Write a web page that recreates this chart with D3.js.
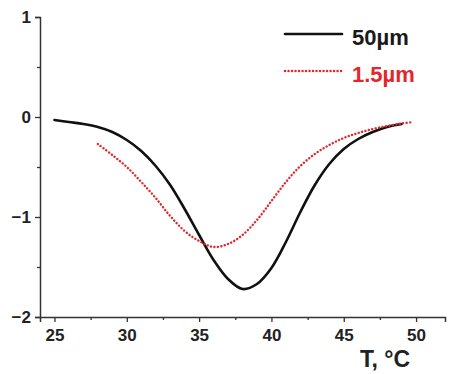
<!DOCTYPE html>
<html>
<head>
<meta charset="utf-8">
<script src="https://cdn.jsdelivr.net/npm/d3@7"></script>
<style>
  body { margin: 0; background: #fff; }
  svg { display: block; font-family: "Liberation Sans", Arial, sans-serif; font-weight: bold; }
</style>
</head>
<body>
<div id="chart"></div>
<script>
// T, °C for the 50 µm sample and its signal
const tempLarge = [25, 26, 27, 28, 29, 30, 31, 32, 33, 34, 35, 36, 37, 38, 39, 40, 41, 42, 43, 44, 45, 46, 47, 48, 49];
const valLarge = [-0.03, -0.05, -0.07, -0.10, -0.15, -0.23, -0.34, -0.49, -0.68, -0.92, -1.18, -1.43, -1.62, -1.72, -1.67, -1.51, -1.25, -0.95, -0.68, -0.47, -0.32, -0.22, -0.15, -0.10, -0.07];

// 1.5 µm sample
const tempSmall = [28, 29, 30, 31, 32, 33, 34, 35, 36, 37, 38, 39, 40, 41, 42, 43, 44, 45, 46, 47, 48, 49, 49.8];
const valSmall = [-0.27, -0.38, -0.50, -0.65, -0.81, -0.99, -1.14, -1.24, -1.30, -1.27, -1.18, -1.03, -0.84, -0.65, -0.49, -0.37, -0.28, -0.21, -0.16, -0.12, -0.09, -0.065, -0.05];

const xTicks = [25, 30, 35, 40, 45, 50];
const xMinor = [27.5, 32.5, 37.5, 42.5, 47.5];
const yTicks = [1, 0, -1, -2];
const yMinor = [0.5, -0.5, -1.5];

const seriesNames = ["50\u00b5m", "1.5\u00b5m"];
const seriesColors = ["#111111", "#e3262b"];

const width = 472, height = 374;
const margin = { left: 40, top: 17, right: 27, bottom: 57 };

const svg = d3.select("#chart").append("svg")
    .attr("width", width)
    .attr("height", height);

const x = d3.scaleLinear().domain([24, 52]).range([margin.left, width - margin.right]);
const y = d3.scaleLinear().domain([-2, 1]).range([height - margin.bottom, margin.top]);

const axisColor = "#333";

// x axis
const gx = svg.append("g")
    .attr("transform", `translate(0,${y(-2)})`)
    .call(d3.axisBottom(x).tickValues(xTicks).tickSize(5).tickPadding(7).tickFormat(d3.format("d")));
gx.append("g")
    .call(d3.axisBottom(x).tickValues(xMinor).tickSize(3).tickFormat(""));
gx.selectAll(".domain").attr("stroke", axisColor).attr("stroke-width", 1.5);
gx.selectAll("line").attr("stroke", axisColor).attr("stroke-width", 1.3);
gx.selectAll("text").attr("font-size", 17).attr("fill", "#222");
gx.selectAll("g g .domain").remove();

// y axis
const gy = svg.append("g")
    .attr("transform", `translate(${x(24)},0)`)
    .call(d3.axisLeft(y).tickValues(yTicks).tickSize(5).tickPadding(4).tickFormat(d3.format("d")));
gy.append("g")
    .call(d3.axisLeft(y).tickValues(yMinor).tickSize(3).tickFormat(""));
gy.selectAll(".domain").attr("stroke", axisColor).attr("stroke-width", 1.5);
gy.selectAll("line").attr("stroke", axisColor).attr("stroke-width", 1.3);
gy.selectAll("text").attr("font-size", 17).attr("fill", "#222");
gy.selectAll("g g .domain").remove();

// axis title
svg.append("text")
    .attr("x", 360).attr("y", 367)
    .attr("font-size", 23).attr("fill", "#222")
    .text("T, \u00b0C");

const line = d3.line()
    .x(d => x(d[0]))
    .y(d => y(d[1]))
    .curve(d3.curveCatmullRom.alpha(0.5));

svg.append("path")
    .datum(d3.zip(tempLarge, valLarge))
    .attr("fill", "none")
    .attr("stroke", seriesColors[0])
    .attr("stroke-width", 2.6)
    .attr("stroke-linecap", "round")
    .attr("d", line);

svg.append("path")
    .datum(d3.zip(tempSmall, valSmall))
    .attr("fill", "none")
    .attr("stroke", seriesColors[1])
    .attr("stroke-width", 2.4)
    .attr("stroke-linecap", "round")
    .attr("stroke-dasharray", "0.1 3.4")
    .attr("d", line);

// legend
const legend = svg.append("g");
seriesNames.forEach((name, i) => {
    const ly = 34 + i * 37;
    legend.append("line")
        .attr("x1", 285).attr("x2", 342)
        .attr("y1", ly).attr("y2", ly)
        .attr("stroke", seriesColors[i])
        .attr("stroke-width", i === 0 ? 2.6 : 2.4)
        .attr("stroke-linecap", "round")
        .attr("stroke-dasharray", i === 0 ? null : "0.1 3.4");
    legend.append("text")
        .attr("x", 352).attr("y", ly + 11)
        .attr("font-size", 22)
        .attr("fill", i === 0 ? "#1a1a1a" : seriesColors[i])
        .text(name);
});
</script>
</body>
</html>
